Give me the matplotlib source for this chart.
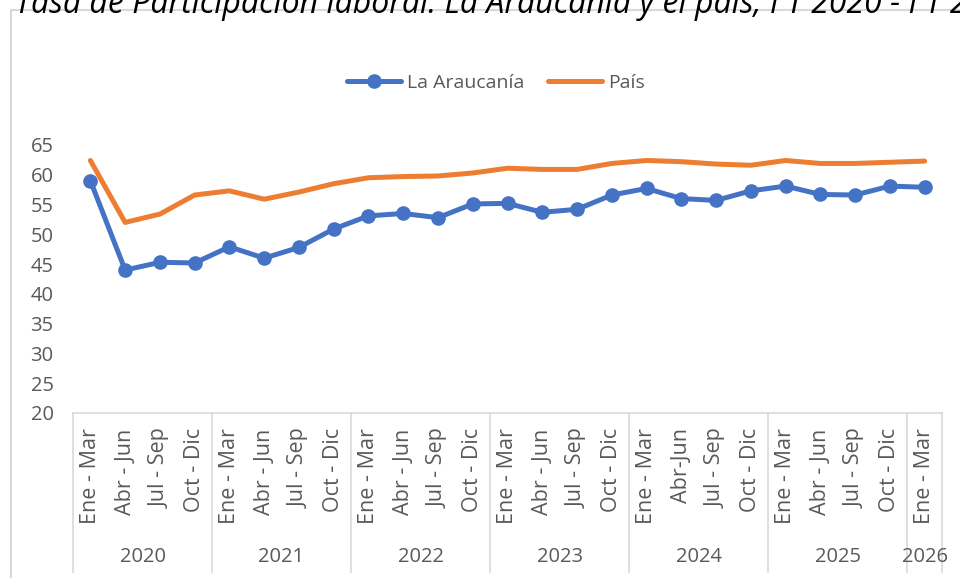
import matplotlib
matplotlib.use("Agg")
import matplotlib.pyplot as plt
from matplotlib.transforms import blended_transform_factory
from matplotlib.lines import Line2D
from matplotlib.patches import Rectangle

plt.rcParams['font.family'] = ['Open Sans', 'DejaVu Sans']

quarters = ["Ene - Mar", "Abr - Jun", "Jul - Sep", "Oct - Dic",
            "Ene - Mar", "Abr - Jun", "Jul - Sep", "Oct - Dic",
            "Ene - Mar", "Abr - Jun", "Jul - Sep", "Oct - Dic",
            "Ene - Mar", "Abr - Jun", "Jul - Sep", "Oct - Dic",
            "Ene - Mar", "Abr-Jun", "Jul - Sep", "Oct - Dic",
            "Ene - Mar", "Abr - Jun", "Jul - Sep", "Oct - Dic",
            "Ene - Mar"]
years = ["2020", "2021", "2022", "2023", "2024", "2025", "2026"]
year_sizes = [4, 4, 4, 4, 4, 4, 1]

araucania = [59.0, 44.0, 45.3, 45.2, 47.9, 46.0, 47.8, 50.9, 53.1, 53.5, 52.8, 55.1,
             55.2, 53.7, 54.2, 56.6, 57.7, 56.0, 55.7, 57.3, 58.1, 56.7, 56.6, 58.1, 57.9]
pais = [62.4, 52.0, 53.4, 56.6, 57.3, 55.9, 57.1, 58.5, 59.5, 59.7, 59.8, 60.3,
        61.1, 60.9, 60.9, 61.9, 62.4, 62.2, 61.8, 61.6, 62.4, 61.9, 61.9, 62.1, 62.3]

yticks = [20, 25, 30, 35, 40, 45, 50, 55, 60, 65]

TXT = '#595959'
GRID = '#d9d9d9'
BLUE = '#4472C4'
ORANGE = '#ED7D31'

W, H = 960, 578
fig = plt.figure(figsize=(W / 100, H / 100), dpi=100)
ax = fig.add_axes([73 / W, 1 - 413 / H, (942 - 73) / W, (413 - 145) / H])

x = list(range(len(quarters)))
ax.plot(x, araucania, color=BLUE, lw=3.6, marker='o', markersize=9.5,
        label='La Araucanía', solid_capstyle='round', zorder=3)
ax.plot(x, pais, color=ORANGE, lw=3.6, label='País',
        solid_capstyle='round', zorder=2)

ax.set_xlim(-0.5, len(quarters) - 0.5)
ax.set_ylim(20, 65)
ax.set_yticks(yticks)
ax.set_yticklabels([str(v) for v in yticks], fontsize=14.5, color=TXT)
ax.set_xticks(x)
ax.set_xticklabels(quarters, rotation=90, fontsize=15.5, color=TXT, va='top', ha='center')
ax.tick_params(axis='x', length=0, pad=11)
ax.tick_params(axis='y', length=0, pad=14)
for s in ['top', 'right', 'left']:
    ax.spines[s].set_visible(False)
ax.spines['bottom'].set_color(GRID)
ax.spines['bottom'].set_linewidth(1.2)

# category group separators and year labels
tr = blended_transform_factory(ax.transData, fig.transFigure)
y_top = 1 - 413 / H
y_bot = 1 - 572 / H
bounds = [-0.5]
for n in year_sizes:
    bounds.append(bounds[-1] + n)
for b in bounds:
    fig.add_artist(Line2D([b, b], [y_top, y_bot], transform=tr, color=GRID, lw=1.2))
for i, yr in enumerate(years):
    c = (bounds[i] + bounds[i + 1]) / 2
    fig.text(c, 1 - 557 / H, yr, transform=tr, ha='center', va='center',
             fontsize=14.5, color=TXT)

# outer chart border
fig.add_artist(Rectangle((11 / W, -0.05), 1.0, 1 - 10 / H + 0.05, transform=fig.transFigure,
                         fill=False, edgecolor=GRID, lw=1.5))

# title (partly outside the top edge, as in the reference)
fig.text(15 / W, 1 - 13 / H, 'Tasa de Participación laboral: La Araucanía y el país, I T 2020 - I T 2026',
         fontsize=23, style='italic', color='#000000', ha='left', va='baseline')

ax.legend(loc='center', bbox_to_anchor=(496 / W, 1 - 83 / H), bbox_transform=fig.transFigure,
          ncol=2, frameon=False, fontsize=14, handlelength=2.8, handletextpad=0.3,
          columnspacing=1.2, labelcolor=TXT)

fig.savefig('out.png', dpi=100)
